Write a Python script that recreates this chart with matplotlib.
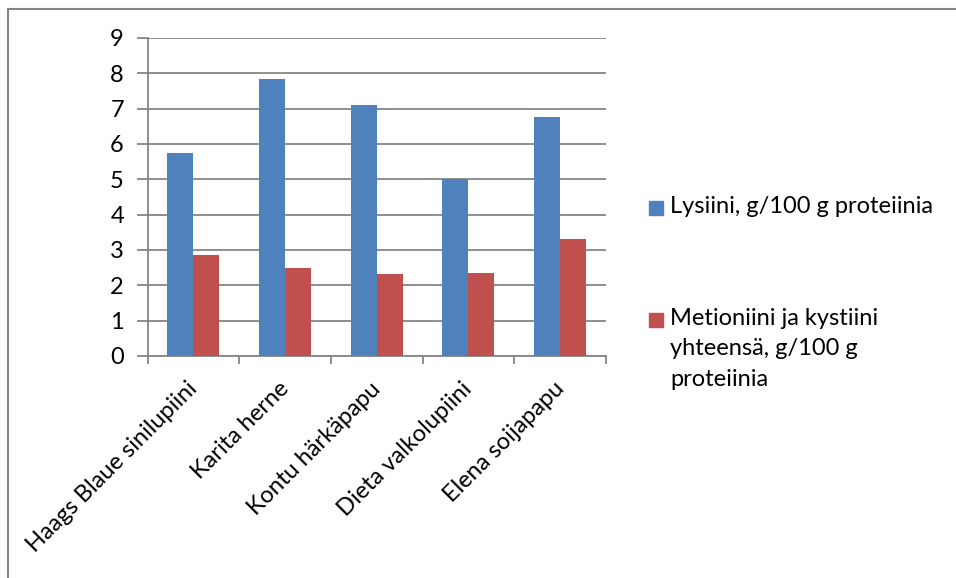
import numpy as np
import matplotlib.pyplot as plt
import matplotlib.transforms as mtransforms
from matplotlib.patches import Rectangle

# Aminohappopitoisuudet lajikkeittain
lajikkeet = ['Haags Blaue sinilupiini', 'Karita herne', 'Kontu härkäpapu',
             'Dieta valkolupiini', 'Elena soijapapu']
lysiini = [5.75, 7.83, 7.09, 5.00, 6.77]
met_kys = [2.86, 2.48, 2.32, 2.36, 3.32]
sarjat = ['Lysiini, g/100 g proteiinia',
          'Metioniini ja kystiini\nyhteensä, g/100 g\nproteiinia']
varit = ['#4F81BD', '#C0504D']

plt.rcParams['font.family'] = ['Lato', 'DejaVu Sans']

W, H = 956, 578
fig = plt.figure(figsize=(W/100, H/100), dpi=100)
ax = fig.add_axes([147.5/W, 1-356/H, (606-147.5)/W, (356-38)/H])

x = np.arange(len(lajikkeet))
w = 0.283
ax.bar(x - w/2, lysiini, w, color=varit[0], zorder=3)
ax.bar(x + w/2, met_kys, w, color=varit[1], zorder=3)

ax.set_xlim(-0.5, len(lajikkeet) - 0.5)
ax.set_ylim(0, 9)
ax.set_yticks(range(10))
ax.yaxis.grid(True, color='#868686', linewidth=1.3, zorder=0)

for s in ['top', 'right']:
    ax.spines[s].set_visible(False)
for s in ['left', 'bottom']:
    ax.spines[s].set_color('#868686')
    ax.spines[s].set_linewidth(1.3)

# tick marks between categories, labels at the centers
ax.set_xticks(np.arange(-0.5, len(lajikkeet)))
ax.set_xticklabels([])
ax.set_xticks(x, minor=True)
ax.set_xticklabels(lajikkeet, minor=True, rotation=45, ha='right',
                   rotation_mode='anchor', fontsize=17)
ax.tick_params(axis='x', which='minor', length=0, pad=16)
ax.tick_params(axis='x', which='major', length=6, color='#868686', width=1.3)
ax.tick_params(axis='y', length=8, color='#868686', width=1.3, labelsize=17, pad=9)

siirto = mtransforms.ScaledTranslation(-7/100, 0, fig.dpi_scale_trans)
for t in ax.get_xticklabels(minor=True):
    t.set_transform(t.get_transform() + siirto)

# legend drawn by hand so the square sits on the first text line
for ys, vari in zip([201, 313], varit):
    fig.patches.append(Rectangle((649/W, 1 - (ys + 14)/H), 14/W, 14/H,
                                 transform=fig.transFigure, color=vari))
fig.text(670/W, 1 - 196/H, sarjat[0], fontsize=17, va='top')
fig.text(670/W, 1 - 308/H, sarjat[1], fontsize=17, va='top', linespacing=1.55)

fig.patches.append(Rectangle((8/W, -0.1), 1.1, 1 - 9/H + 0.1,
                             transform=fig.transFigure, fill=False,
                             edgecolor='#868686', linewidth=1.5))

fig.savefig('out.png', dpi=100)
